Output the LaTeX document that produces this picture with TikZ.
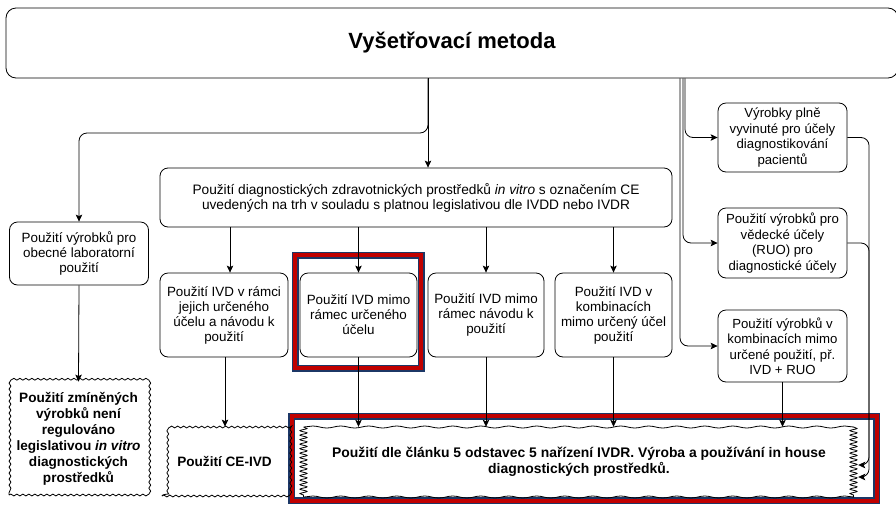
\documentclass[tikz,border=0pt]{standalone}
\usepackage{fontspec}
\setmainfont{Liberation Sans}
\usetikzlibrary{arrows.meta,decorations.pathmorphing,calc}
\definecolor{navyc}{HTML}{1C3766}
\definecolor{redc}{HTML}{C00000}
\begin{document}
\begin{tikzpicture}[x=1pt,y=-1pt,
  box/.style={draw, rounded corners=8pt, align=center, inner sep=0pt, line width=0.8pt, font=\fontsize{13.4}{15}\selectfont},
  wbox/.style={draw, decorate, decoration={snake, amplitude=0.9pt, segment length=6pt}, align=center, inner sep=0pt, line width=0.8pt, font=\bfseries\fontsize{13.6}{16}\selectfont},
  arr/.style={-{Stealth[length=7pt,width=6.5pt,inset=1.5pt]}, line width=0.8pt},
  ln/.style={line width=0.8pt},
  frameN/.style={draw=navyc, line width=7pt},
  frameR/.style={draw=redc, line width=4pt},
  wedge/.style={line width=0.8pt, decorate, decoration={snake, amplitude=1pt, segment length=28pt}},
  coil/.style={line width=0.8pt, decorate, decoration={snake, amplitude=3.5pt, segment length=4.5pt}},
]
\useasboundingbox (0,0) rectangle (896,504);
\clip (0,0) rectangle (896,504);
\fill[white] (0,0) rectangle (896,504);

% frames
\draw[frameN] (295,255) rectangle (421,368);
\draw[frameR] (295,255) rectangle (421,368);
\draw[frameN] (291.6,416) rectangle (876.5,500.5);
\draw[frameR] (291.6,416) rectangle (876.5,500.5);

% nodes
\node[box, rounded corners=10pt, minimum width=892pt, minimum height=70pt, font=\bfseries\fontsize{22}{26}\selectfont] (top) at (452,43) {Vyšetřovací metoda};
\node[box, minimum width=512pt, minimum height=59pt, font=\fontsize{13.7}{15}\selectfont] (diag) at (416,197.5) {Použití diagnostických zdravotnických prostředků \textit{in vitro} s označením CE\\uvedených na trh v souladu s platnou legislativou dle IVDD nebo IVDR};
\node[box, minimum width=139pt, minimum height=63pt] (left) at (79,253.5) {Použití výrobků pro\\obecné laboratorní\\použití};
\node[box, minimum width=128pt, minimum height=84pt] (A) at (224,315) {Použití IVD v rámci\\jejich určeného\\účelu a návodu k\\použití};
\node[box, minimum width=117pt, minimum height=84pt] (B) at (358.5,315) {Použití IVD mimo\\rámec určeného\\účelu};
\node[box, minimum width=116pt, minimum height=84pt] (C) at (486,315) {Použití IVD mimo\\rámec návodu k\\použití};
\node[box, minimum width=117pt, minimum height=84pt] (D) at (613.5,315) {Použití IVD v\\kombinacích\\mimo určený účel\\použití};
\node[box, minimum width=129pt, minimum height=69pt, font=\fontsize{13.2}{15.5}\selectfont] (r1) at (782.5,137.5) {Výrobky plně\\vyvinuté pro účely\\diagnostikování\\pacientů};
\node[box, minimum width=129pt, minimum height=70pt, font=\fontsize{13.2}{15.5}\selectfont] (r2) at (782.5,243) {Použití výrobků pro\\vědecké účely\\(RUO) pro\\diagnostické účely};
\node[box, minimum width=129pt, minimum height=72pt, font=\fontsize{13.2}{15.5}\selectfont] (r3) at (782.5,346) {Použití výrobků v\\kombinacích mimo\\určené použití, př.\\IVD + RUO};
\node[wbox, minimum width=139pt, minimum height=113pt] (bl) at (78.5,438.5) {Použití zmíněných\\výrobků není\\regulováno\\legislativou \textit{in vitro}\\diagnostických\\prostředků};
\node[wbox, minimum width=125pt, minimum height=69pt] (ce) at (224.5,461.5) {Použití CE-IVD};
\node[align=center, inner sep=0pt, minimum width=558pt, minimum height=70pt, font=\bfseries\fontsize{13.9}{15.5}\selectfont] (big) at (579,462) {Použití dle článku 5 odstavec 5 nařízení IVDR. Výroba a používání in house\\diagnostických prostředků.};
\draw[wedge] (304,427) -- (854,427);
\draw[wedge] (304,497) -- (854,497);
\draw[coil] (303.5,427) -- (303.5,497);
\draw[coil] (853.5,427) -- (853.5,497);

% connectors
\draw[arr] (top.south -| 428,0) -- (diag.north -| 428,0);
\draw[arr, rounded corners=8pt] (top.south -| 428,0) -- (428,133) -- (left.north |- 0,133) -- (left.north);
\draw[arr, rounded corners=8pt] (top.south -| 685,0) |- (r1.west);
\draw[arr, rounded corners=8pt] (top.south -| 683,0) |- (r2.west);
\draw[arr, rounded corners=8pt] (top.south -| 680,0) |- (r3.west);
\draw[arr] (diag.south -| 230,0) -- (A.north -| 230,0);
\draw[arr] (diag.south -| B.north) -- (B.north);
\draw[arr] (diag.south -| C.north) -- (C.north);
\draw[arr] (diag.south -| D.north) -- (D.north);
\draw[arr] (left.south) -- (bl.north);
\draw[arr] (A.south -| 225,0) -- (ce.north -| 225,0);
\draw[arr] (B.south) -- (big.north -| B.south);
\draw[arr] (C.south) -- (big.north -| C.south);
\draw[arr] (D.south) -- (big.north -| D.south);
\draw[arr] (r3.south) -- (big.north -| r3.south);
\draw[arr, rounded corners=8pt] (r1.east) -- (869,137.5) -- (869,465) -- (big.east |- 0,465);
\draw[arr, rounded corners=8pt] (r2.east) -- (869,243) -- (869,477) -- (big.east |- 0,477);
\end{tikzpicture}
\end{document}
